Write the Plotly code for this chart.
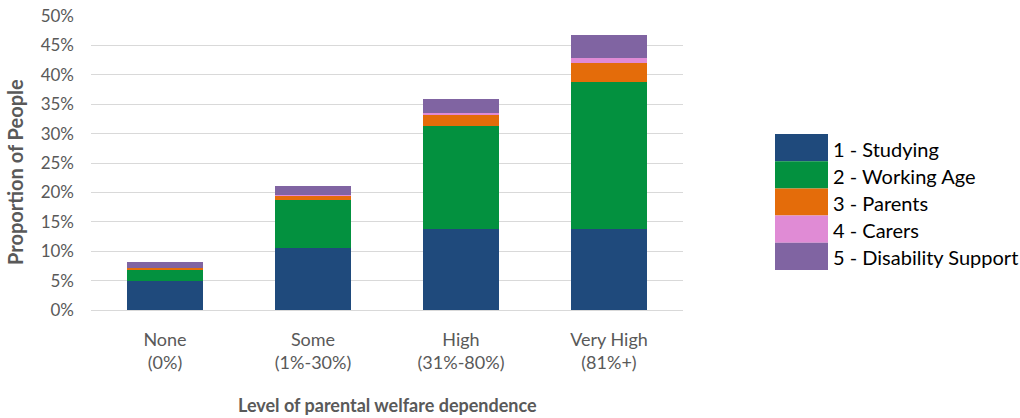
import plotly.graph_objects as go

# Categories of parental welfare dependence
categories = ["None<br>(0%)", "Some<br>(1%-30%)", "High<br>(31%-80%)", "Very High<br>(81%+)"]

# Proportion of people (%) by benefit category
studying = [4.9, 10.6, 13.8, 13.8]
working_age = [2.0, 8.1, 17.5, 25.0]
parents = [0.25, 0.8, 1.8, 3.2]
carers = [0.05, 0.1, 0.45, 0.9]
disability = [0.9, 1.5, 2.35, 3.9]

series_names = ["1 - Studying", "2 - Working Age", "3 - Parents", "4 - Carers", "5 - Disability Support"]
series_values = [studying, working_age, parents, carers, disability]
colors = ["#1F4A7C", "#03913F", "#E46C0A", "#E08BD5", "#8064A2"]

tick_vals = [0, 5, 10, 15, 20, 25, 30, 35, 40, 45, 50]
tick_text = ["0%", "5%", "10%", "15%", "20%", "25%", "30%", "35%", "40%", "45%", "50%"]

FONT = "Lato"
GREY = "#595959"

W, H = 1020, 418
PL, PR, PT, PB = 91, 683, 16, 310  # plot area in pixels


def px_x(x):
    return (x - PL) / (PR - PL)


def px_y(y):
    return (PB - y) / (PB - PT)


fig = go.Figure()
for name, vals, col in zip(series_names, series_values, colors):
    fig.add_trace(go.Bar(x=categories, y=vals, name=name,
                         marker=dict(color=col, line=dict(width=0)), showlegend=False))

# Legend drawn as large colour blocks with labels
sw_x0, sw_x1 = 775, 828
row_top, row_h = 134, 27.2
for i, (name, col) in enumerate(zip(series_names, colors)):
    y0 = row_top + i * row_h
    y1 = y0 + row_h
    fig.add_shape(type="rect", xref="paper", yref="paper",
                  x0=px_x(sw_x0), x1=px_x(sw_x1), y0=px_y(y1), y1=px_y(y0),
                  fillcolor=col, line=dict(width=0))
    fig.add_annotation(xref="paper", yref="paper",
                       x=px_x(sw_x1 + 3), y=px_y((y0 + y1) / 2 + 1),
                       text=name, showarrow=False, xanchor="left", yanchor="middle",
                       font=dict(family=FONT, size=20, color="#000000"))

# Axis titles
fig.add_annotation(xref="paper", yref="paper", x=0.5, y=px_y(405),
                   text="<b>Level of parental welfare dependence</b>", showarrow=False,
                   xanchor="center", yanchor="middle",
                   font=dict(family=FONT, size=18, color=GREY))
fig.add_annotation(xref="paper", yref="paper", x=px_x(15), y=px_y(172),
                   text="<b>Proportion of People</b>", showarrow=False, textangle=-90,
                   xanchor="center", yanchor="middle",
                   font=dict(family=FONT, size=20, color=GREY))

fig.update_layout(
    barmode="stack",
    bargap=0.49,
    width=W, height=H,
    margin=dict(l=PL, r=W - PR, t=PT, b=H - PB),
    plot_bgcolor="white",
    paper_bgcolor="white",
    font=dict(family=FONT, size=17, color=GREY),
    xaxis=dict(
        automargin=False,
        tickfont=dict(size=18, color=GREY),
        ticklabelstandoff=17,
        showline=False, showgrid=False, ticks="", ticklen=0,
    ),
    yaxis=dict(
        automargin=False,
        range=[0, 50], tickvals=tick_vals, ticktext=tick_text,
        tickfont=dict(size=17, color=GREY),
        ticklabelstandoff=16,
        showgrid=True, gridcolor="#D9D9D9", gridwidth=1,
        zeroline=True, zerolinecolor="#D9D9D9", zerolinewidth=1,
        showline=False, ticks="",
    ),
)

fig.write_html("out.html")
